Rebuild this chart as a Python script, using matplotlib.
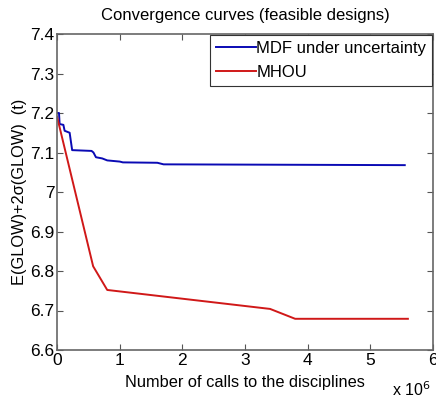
import matplotlib.pyplot as plt

plt.rcParams['font.family'] = ['Liberation Sans', 'DejaVu Sans']

# calls to the disciplines (in millions) and objective value
mdf_calls = [0, 0.03, 0.04, 0.10, 0.12, 0.20, 0.24, 0.55, 0.58, 0.62, 0.72,
             0.80, 1.00, 1.05, 1.60, 1.70, 5.55]
mdf_obj = [7.200, 7.200, 7.172, 7.170, 7.155, 7.150, 7.106, 7.104, 7.100,
           7.088, 7.085, 7.080, 7.077, 7.075, 7.074, 7.070, 7.068]

mhou_calls = [0, 0.575, 0.80, 3.40, 3.80, 5.60]
mhou_obj = [7.19, 6.812, 6.752, 6.704, 6.679, 6.679]

xticks = [0, 1, 2, 3, 4, 5, 6]
yticks = [6.6, 6.7, 6.8, 6.9, 7.0, 7.1, 7.2, 7.3, 7.4]
ytick_labels = ['6.6', '6.7', '6.8', '6.9', '7', '7.1', '7.2', '7.3', '7.4']

fig = plt.figure(figsize=(4.36, 4.0), dpi=100)
ax = fig.add_axes([0.131, 0.125, 0.862, 0.79])

ax.plot(mdf_calls, mdf_obj, color='#0a0ab4', lw=1.4, label='MDF under uncertainty')
ax.plot(mhou_calls, mhou_obj, color='#d01818', lw=1.4, label='MHOU')

ax.set_xlim(0, 6)
ax.set_ylim(6.6, 7.4)
ax.set_xticks(xticks)
ax.set_yticks(yticks)
ax.set_yticklabels(ytick_labels)
ax.tick_params(direction='in', top=True, right=True, labelsize=12.5, length=4,
               color='#555555', pad=2)
for s in ax.spines.values():
    s.set_color('#666666')
    s.set_linewidth(1.2)

ax.set_title('Convergence curves (feasible designs)', fontsize=12, pad=10)
ax.set_xlabel('Number of calls to the disciplines', fontsize=11.8, labelpad=5)
ax.set_ylabel('E(GLOW)+2σ(GLOW)  (t)', fontsize=11.8, labelpad=2)
ax.text(0.995, -0.125, r'x 10$^6$', transform=ax.transAxes, fontsize=11.5,
        ha='right', va='center')

leg = ax.legend(loc='upper right', fontsize=12, handlelength=2.4,
                handletextpad=0.0, borderpad=0.35, labelspacing=0.55,
                fancybox=False, framealpha=1, borderaxespad=0.05)
leg.get_frame().set_edgecolor('#333333')
leg.get_frame().set_linewidth(0.8)

fig.savefig('out.png', dpi=100)
